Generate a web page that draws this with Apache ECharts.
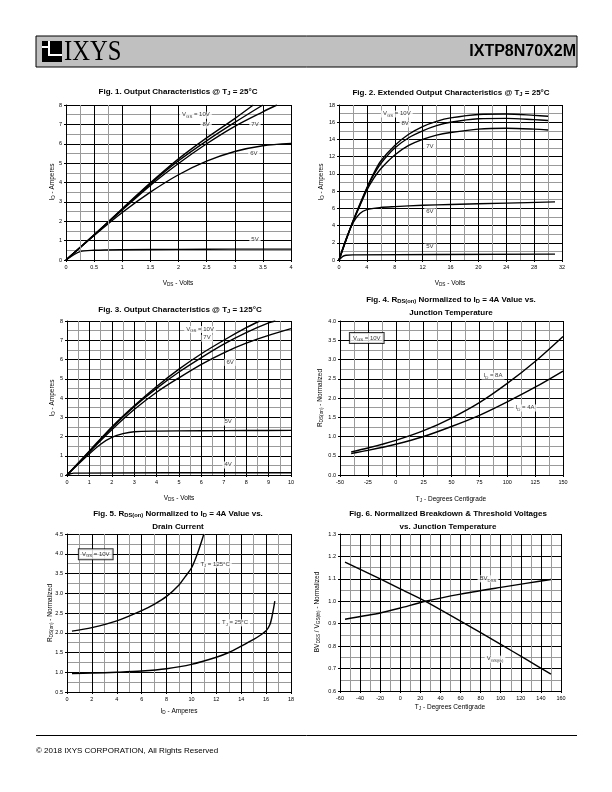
<!DOCTYPE html>
<html><head><meta charset="utf-8">
<script src="https://cdn.jsdelivr.net/npm/echarts@6.0.0/dist/echarts.min.js"></script>
<style>html,body{margin:0;padding:0;background:#fff;}#c{width:612px;height:792px;}</style>
</head><body><div id="c"></div>
<script>
// ---------------- DATA ----------------
// Fig.1 Output characteristics @25C  (V_DS volts -> I_D amps)
const fig1_10V_x = [0, 0.5, 1, 1.5, 2, 2.5, 3, 3.33];
const fig1_10V_y = [0, 1.3, 2.65, 3.98, 5.22, 6.3, 7.3, 8.0];
const fig1_8V_x  = [0, 0.5, 1, 1.5, 2, 2.5, 3, 3.5];
const fig1_8V_y  = [0, 1.3, 2.63, 3.93, 5.12, 6.15, 7.1, 8.0];
const fig1_7V_x  = [0, 0.5, 1, 1.5, 2, 2.5, 3, 3.5, 3.75];
const fig1_7V_y  = [0, 1.28, 2.58, 3.85, 4.98, 6.0, 6.9, 7.65, 8.0];
const fig1_6V_x  = [0, 0.5, 1, 1.5, 2, 2.5, 3, 3.5, 4];
const fig1_6V_y  = [0, 1.26, 2.45, 3.5, 4.4, 5.1, 5.6, 5.9, 6.02];
const fig1_5V_x  = [0, 0.25, 0.5, 1, 2, 3, 4];
const fig1_5V_y  = [0, 0.43, 0.5, 0.53, 0.55, 0.56, 0.56];
const fig1MinorX = [0.25, 0.75];

// Fig.2 Extended output characteristics @25C
const fig2_x     = [0, 1, 2, 3, 4, 5, 6, 8, 10, 12, 14, 16, 20, 24, 28, 30];
const fig2_10V_y = [0, 2.3, 4.5, 6.5, 8.4, 10.1, 11.5, 13.3, 14.6, 15.5, 16.1, 16.5, 16.9, 16.95, 16.8, 16.7];
const fig2_8V_y  = [0, 2.3, 4.5, 6.4, 8.3, 9.9, 11.2, 13.0, 14.2, 15.0, 15.6, 16.0, 16.4, 16.45, 16.3, 16.2];
const fig2_7V_y  = [0, 2.3, 4.4, 6.3, 8.1, 9.5, 10.6, 12.2, 13.3, 14.0, 14.5, 14.8, 15.2, 15.3, 15.2, 15.1];
const fig2_6V_x  = [0, 1, 2, 3, 4, 6, 8, 12, 16, 24, 31];
const fig2_6V_y  = [0, 2.4, 4.3, 5.4, 5.85, 6.1, 6.2, 6.35, 6.45, 6.6, 6.75];
const fig2_5V_x  = [0, 0.5, 1, 2, 31];
const fig2_5V_y  = [0, 0.4, 0.55, 0.6, 0.68];

// Fig.3 Output characteristics @125C
const fig3_10V_x = [0, 1, 2, 3, 4, 5, 6, 7, 8, 8.6];
const fig3_10V_y = [0, 1.25, 2.5, 3.6, 4.6, 5.5, 6.3, 7.0, 7.65, 8.0];
const fig3_7V_x  = [0, 1, 2, 3, 4, 5, 6, 7, 8, 9, 9.3];
const fig3_7V_y  = [0, 1.22, 2.45, 3.55, 4.5, 5.35, 6.1, 6.8, 7.4, 7.9, 8.0];
const fig3_6V_x  = [0, 1, 2, 3, 4, 5, 6, 7, 8, 9, 10];
const fig3_6V_y  = [0, 1.2, 2.35, 3.4, 4.3, 5.05, 5.75, 6.35, 6.85, 7.25, 7.6];
const fig3_5V_x  = [0, 1, 1.5, 2, 2.5, 3, 4, 6, 8, 10];
const fig3_5V_y  = [0, 1.1, 1.6, 1.95, 2.15, 2.25, 2.28, 2.3, 2.31, 2.32];
const fig3_4V_x  = [0, 0.3, 10];
const fig3_4V_y  = [0, 0.1, 0.12];

// Fig.4 RDS(on) normalized vs junction temperature
const fig4_T  = [-40, -25, 0, 25, 50, 75, 100, 125, 150];
const fig4_8A = [0.6, 0.7, 0.9, 1.15, 1.48, 1.88, 2.38, 2.95, 3.6];
const fig4_4A = [0.56, 0.64, 0.8, 1.0, 1.26, 1.55, 1.9, 2.28, 2.7];

// Fig.5 RDS(on) normalized vs drain current
const fig5_125_x = [0.4, 2, 4, 6, 7, 8, 9, 9.5, 10, 10.5, 11];
const fig5_125_y = [2.04, 2.13, 2.3, 2.56, 2.72, 2.92, 3.21, 3.42, 3.64, 4.02, 4.5];
const fig5_25_x  = [0.4, 2, 4, 6, 8, 10, 12, 13, 14, 15, 15.5, 16, 16.3, 16.5, 16.7];
const fig5_25_y  = [0.97, 0.98, 1.0, 1.03, 1.09, 1.2, 1.38, 1.5, 1.66, 1.83, 1.93, 2.05, 2.2, 2.45, 2.8];

// Fig.6 Normalized BVDSS / VGS(th) vs temperature
const fig6_T   = [-55, -20, 0, 25, 60, 100, 125, 150];
const fig6_BV  = [0.92, 0.948, 0.97, 1.0, 1.032, 1.062, 1.08, 1.097];
const fig6_VTH = [1.175, 1.1, 1.055, 1.0, 0.912, 0.808, 0.742, 0.675];

// ---------------- HELPERS ----------------
const FONT = 'Liberation Sans, Arial, sans-serif';
function rt(s){
  let out='', last=0, m; const re=/_\{([^}]*)\}/g;
  while((m=re.exec(s))){ if(m.index>last) out+='{n|'+s.slice(last,m.index)+'}'; out+='{s|'+m[1]+'}'; last=re.lastIndex; }
  if(last<s.length) out+='{n|'+s.slice(last)+'}';
  return out;
}
function rich(size, bold){
  const w = bold ? 'bold' : 'normal';
  const ss = Math.round(size*0.72*10)/10;
  return {
    n:{fontSize:size, fontFamily:FONT, fontWeight:w, color:'#000', lineHeight:size+1, verticalAlign:'top'},
    s:{fontSize:ss, fontFamily:FONT, fontWeight:w, color:'#000', lineHeight:ss+1, verticalAlign:'bottom', padding:[size*0.4,0,0,0]}
  };
}
const pairs = (xs, ys) => xs.map((x,k)=>[x, ys[k]]);
function curve(i, xs, ys, extra){
  return Object.assign({type:'line', xAxisIndex:i, yAxisIndex:i, data:pairs(xs,ys), smooth:0.3,
    symbol:'none', lineStyle:{color:'#000', width:1.4}, z:3, silent:true, animation:false}, extra||{});
}
function labels(i, items){
  return {type:'scatter', xAxisIndex:i, yAxisIndex:i, symbol:'rect', symbolSize:1, itemStyle:{color:'rgba(0,0,0,0)'}, z:6, silent:true, animation:false,
    data: items.map(it=>({value:[it[0], it[1]], label:{show:true, position:'inside', formatter: rt(it[2]),
      rich: rich(6,false), backgroundColor:'#fff', padding: it[3] ? [2,3,1,3] : [0,2,0,2],
      borderColor: it[3] ? '#000' : 'rgba(0,0,0,0)', borderWidth: it[3] ? 1 : 0}}))};
}
const fmt1 = v => v.toFixed(1);
function axis(i, min, max, interval, minorN, fmt){
  return {type:'value', gridIndex:i, min:min, max:max, interval:interval,
    axisLine:{show:true, onZero:false, lineStyle:{color:'#000', width:1}},
    axisTick:{show:true, length:2, lineStyle:{color:'#000'}},
    axisLabel:{fontSize:5.5, color:'#000', margin:4, fontFamily:FONT, formatter: fmt},
    splitLine:{show:true, lineStyle:{color:'#000', width:1}},
    minorTick:{show:false, splitNumber: minorN || 2},
    minorSplitLine:{show: !!minorN, lineStyle:{color:'#9a9a9a', width:1}}};
}

const grids = [
  {left:66,  top:105, width:225, height:155},
  {left:339, top:105, width:223, height:155},
  {left:67,  top:321, width:224, height:154},
  {left:340, top:321, width:223, height:154},
  {left:67,  top:534, width:224, height:158},
  {left:340, top:534, width:221, height:157}
];
const xAxes = [
  axis(0, 0, 4, 0.5, 0),
  axis(1, 0, 32, 4, 2),
  axis(2, 0, 10, 1, 2),
  axis(3, -50, 150, 25, 2),
  axis(4, 0, 18, 2, 2),
  axis(5, -60, 160, 20, 2)
];
const yAxes = [
  axis(0, 0, 8, 1, 2),
  axis(1, 0, 18, 2, 2),
  axis(2, 0, 8, 1, 2),
  axis(3, 0, 4, 0.5, 2, fmt1),
  axis(4, 0.5, 4.5, 0.5, 2, fmt1),
  axis(5, 0.6, 1.3, 0.1, 2, fmt1)
];

const series = [
  curve(0, fig1_10V_x, fig1_10V_y, {markLine:{symbol:'none', silent:true, label:{show:false}, animation:false,
     lineStyle:{color:'#9a9a9a', width:1, type:'solid'}, data: fig1MinorX.map(v=>({xAxis:v}))}}),
  curve(0, fig1_8V_x, fig1_8V_y), curve(0, fig1_7V_x, fig1_7V_y), curve(0, fig1_6V_x, fig1_6V_y), curve(0, fig1_5V_x, fig1_5V_y),
  labels(0, [[2.31, 7.47, 'V_{GS} = 10V'], [2.49, 6.96, '8V'], [3.36, 7.0, '7V'], [3.34, 5.5, '6V'], [3.36, 1.03, '5V']]),

  curve(1, fig2_x, fig2_10V_y), curve(1, fig2_x, fig2_8V_y), curve(1, fig2_x, fig2_7V_y),
  curve(1, fig2_6V_x, fig2_6V_y), curve(1, fig2_5V_x, fig2_5V_y),
  labels(1, [[8.3, 16.96, 'V_{GS} = 10V'], [9.5, 15.8, '8V'], [13.05, 13.1, '7V'], [13.05, 5.6, '6V'], [13.05, 1.5, '5V']]),

  curve(2, fig3_10V_x, fig3_10V_y), curve(2, fig3_7V_x, fig3_7V_y), curve(2, fig3_6V_x, fig3_6V_y),
  curve(2, fig3_5V_x, fig3_5V_y), curve(2, fig3_4V_x, fig3_4V_y),
  labels(2, [[5.94, 7.56, 'V_{GS} = 10V'], [6.25, 7.1, '7V'], [7.28, 5.85, '6V'], [7.19, 2.75, '5V'], [7.19, 0.52, '4V']]),

  curve(3, fig4_T, fig4_8A), curve(3, fig4_T, fig4_4A),
  labels(3, [[-26, 3.56, 'V_{GS} = 10V', true], [87.2, 2.57, 'I_{D} = 8A'], [116, 1.74, 'I_{D} = 4A']]),

  curve(4, fig5_125_x, fig5_125_y), curve(4, fig5_25_x, fig5_25_y),
  labels(4, [[2.31, 3.99, 'V_{GS} = 10V', true], [11.9, 3.72, 'T_{J} = 125°C'], [13.5, 2.25, 'T_{J} = 25°C']]),

  curve(5, fig6_T, fig6_BV, {smooth:0.2}), curve(5, fig6_T, fig6_VTH, {smooth:0.2}),
  labels(5, [[87.3, 1.1, 'BV_{DSS}'], [94.3, 0.742, 'V_{GS(th)}']])
];

// ---------------- TEXT (graphic) ----------------
function txt(x, y, s, size, bold, opts){
  return Object.assign({type:'text', x:x, y:y, silent:true, z:10,
    style:{text: rt(s), rich: rich(size, bold), align:'center', verticalAlign:'middle', textAlign:'center', textVerticalAlign:'middle'}}, opts||{});
}
const R = Math.PI/2;
const graphic = [
  // header
  {type:'rect', shape:{x:36, y:36, width:541, height:31}, style:{fill:'#c0c0c0', stroke:'#000', lineWidth:1}, silent:true},
  {type:'rect', shape:{x:42, y:41, width:20, height:21}, style:{fill:'#000'}, silent:true},
  {type:'rect', shape:{x:48, y:41, width:2, height:15}, style:{fill:'#fff'}, silent:true},
  {type:'rect', shape:{x:48, y:54, width:14, height:2}, style:{fill:'#fff'}, silent:true},
  {type:'rect', shape:{x:42, y:46, width:6, height:2}, style:{fill:'#fff'}, silent:true},
  {type:'text', x:64, y:52, silent:true, scaleX:0.85, style:{text:'IXYS', font:'29px "Liberation Serif", "Times New Roman", serif', fill:'#000', align:'left', verticalAlign:'middle', textAlign:'left', textVerticalAlign:'middle'}},
  {type:'text', x:576, y:52, silent:true, style:{text:'IXTP8N70X2M', font:'bold 16px "Liberation Sans", Arial, sans-serif', fill:'#000', align:'right', verticalAlign:'middle', textAlign:'right', textVerticalAlign:'middle'}},
  // titles
  txt(178, 92, 'Fig. 1. Output Characteristics @ T_{J} = 25°C', 8, true),
  txt(451, 93, 'Fig. 2. Extended Output Characteristics @ T_{J} = 25°C', 8, true),
  txt(180, 310, 'Fig. 3. Output Characteristics @ T_{J} = 125°C', 8, true),
  txt(451, 300, 'Fig. 4. R_{DS(on)} Normalized to I_{D} = 4A Value vs.', 8, true),
  txt(451, 313, 'Junction Temperature', 8, true),
  txt(178, 514, 'Fig. 5. R_{DS(on)} Normalized to I_{D} = 4A Value vs.', 8, true),
  txt(178, 527, 'Drain Current', 8, true),
  txt(448, 514, 'Fig. 6. Normalized Breakdown & Threshold Voltages', 8, true),
  txt(448, 527, 'vs. Junction Temperature', 8, true),
  // axis names
  txt(52, 182, 'I_{D} - Amperes', 6.5, false, {rotation:R}),
  txt(178, 283, 'V_{DS} - Volts', 6.5, false),
  txt(321, 182, 'I_{D} - Amperes', 6.5, false, {rotation:R}),
  txt(450, 283, 'V_{DS} - Volts', 6.5, false),
  txt(52, 398, 'I_{D} - Amperes', 6.5, false, {rotation:R}),
  txt(179, 498, 'V_{DS} - Volts', 6.5, false),
  txt(320, 398, 'R_{DS(on)} - Normalized', 6.5, false, {rotation:R}),
  txt(451, 499, 'T_{J} - Degrees Centigrade', 6.5, false),
  txt(50, 613, 'R_{DS(on)} - Normalized', 6.5, false, {rotation:R}),
  txt(179, 711, 'I_{D} - Amperes', 6.5, false),
  txt(317, 612, 'BV_{DSS} / V_{GS(th)} - Normalized', 6.5, false, {rotation:R}),
  txt(450, 707, 'T_{J} - Degrees Centigrade', 6.5, false),
  // footer
  {type:'line', shape:{x1:36, y1:735.5, x2:577, y2:735.5}, style:{stroke:'#000', lineWidth:1}, silent:true},
  {type:'text', x:36, y:751, silent:true, style:{text:'© 2018 IXYS CORPORATION, All Rights Reserved', font:'8px "Liberation Sans", Arial, sans-serif', fill:'#000', align:'left', verticalAlign:'middle', textAlign:'left', textVerticalAlign:'middle'}}
];

const chart = echarts.init(document.getElementById('c'), null, {renderer:'canvas', width:612, height:792});
chart.setOption({
  animation:false,
  backgroundColor:'#fff',
  grid: grids,
  xAxis: xAxes,
  yAxis: yAxes,
  series: series,
  graphic: graphic
});
</script>
</body></html>
